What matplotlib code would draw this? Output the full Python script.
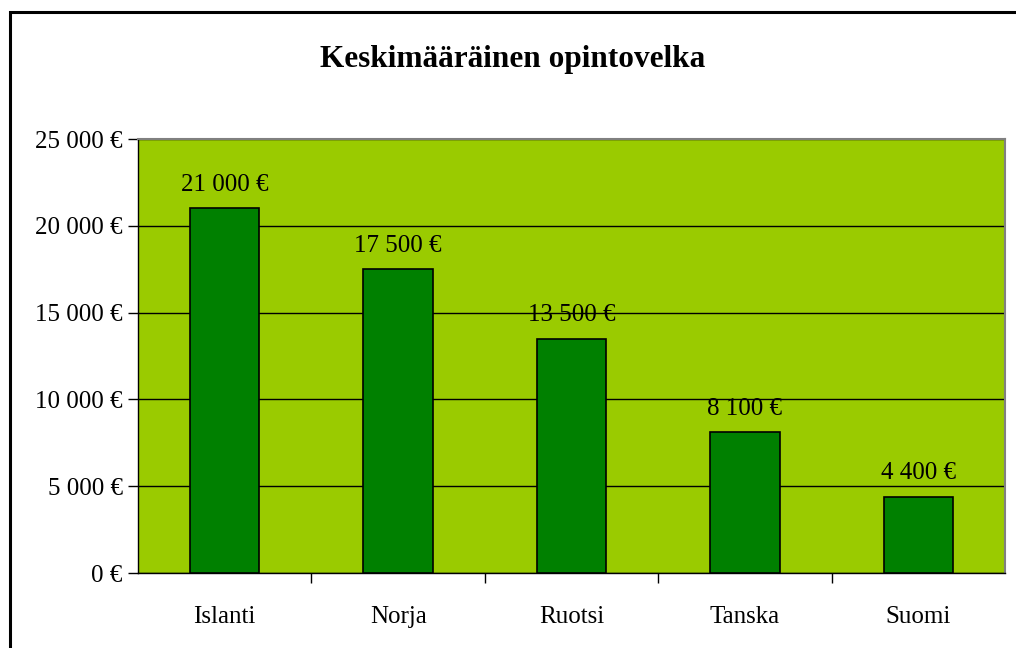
import matplotlib
matplotlib.use("Agg")
import matplotlib.pyplot as plt
from matplotlib.patches import Rectangle
import numpy as np

countries = ["Islanti", "Norja", "Ruotsi", "Tanska", "Suomi"]
debt = [21000, 17500, 13500, 8100, 4400]
y_ticks = [0, 5000, 10000, 15000, 20000, 25000]

PLOT_BG = "#9ACB00"
BAR_COLOR = "#008000"


def euro(v: float) -> str:
    return f"{v:,.0f}".replace(",", " ") + " €"


plt.rcParams["font.family"] = ["Liberation Serif", "DejaVu Serif"]

fig = plt.figure(figsize=(10.16, 6.48), dpi=100)
ax = fig.add_axes([138 / 1016, 75 / 648, 867 / 1016, 434 / 648])

x = np.arange(len(countries))
ax.bar(x, debt, width=0.4, color=BAR_COLOR, edgecolor="black", linewidth=1.2, zorder=3)

for xi, v in zip(x, debt):
    ax.annotate(euro(v), (xi, v), xytext=(0, 9), textcoords="offset points",
                ha="center", va="bottom", fontsize=18, zorder=4)

ax.set_facecolor(PLOT_BG)
ax.set_xlim(-0.5, len(countries) - 0.5)
ax.set_ylim(0, 25000)
ax.set_yticks(y_ticks)
ax.set_yticklabels([euro(v) for v in y_ticks], fontsize=18)
ax.yaxis.grid(True, color="black", linewidth=1.0, zorder=1)
ax.set_axisbelow(True)

ax.set_xticks(x)
ax.set_xticklabels(countries, fontsize=18)
ax.tick_params(axis="x", which="major", length=0, pad=24)
ax.set_xticks(np.arange(0.5, len(countries) - 0.5), minor=True)
ax.tick_params(axis="x", which="minor", length=7, width=1, color="black")
ax.tick_params(axis="y", length=7, width=1, pad=4)

for side in ["top", "right"]:
    ax.spines[side].set_color("#808080")
    ax.spines[side].set_linewidth(1.5)
for side in ["left", "bottom"]:
    ax.spines[side].set_color("black")
    ax.spines[side].set_linewidth(1.0)

fig.text(513 / 1016, 1 - 60 / 648, "Keskimääräinen opintovelka",
         ha="center", va="center", fontsize=22.5, fontweight="bold")

# outer chart-area border (left and top edges visible)
fig.patches.append(Rectangle((10 / 1016, -0.1), 1.2, 1 - 12 / 648 + 0.1,
                             transform=fig.transFigure, fill=False,
                             edgecolor="black", linewidth=2.2))

fig.savefig("out.png", dpi=100)
